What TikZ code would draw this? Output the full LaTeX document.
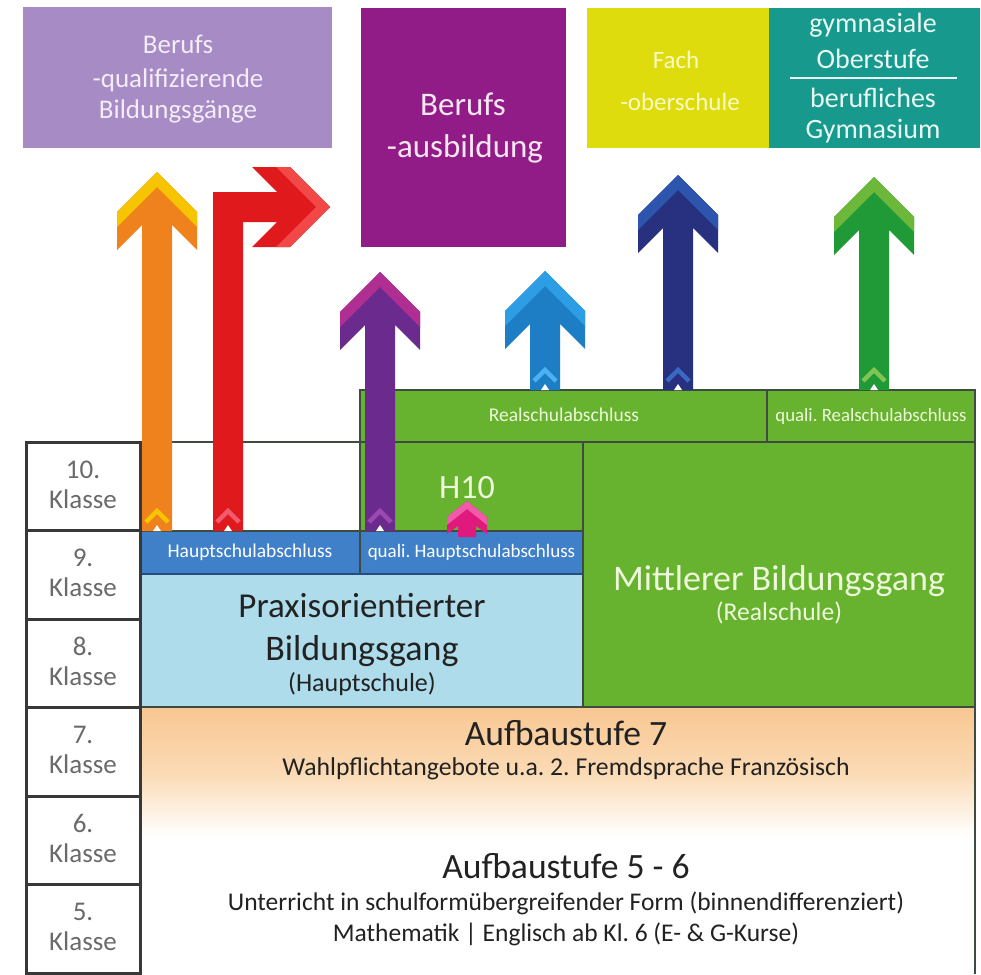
\documentclass[tikz,border=0pt]{standalone}
\usepackage{fontspec}
\setmainfont{Carlito}
\frenchspacing
\newcommand{\fs}[1]{\fontsize{#1}{#1}\selectfont}
\definecolor{lav}{HTML}{A68BC4}
\definecolor{lavtxt}{HTML}{F4ECF8}
\definecolor{purp}{HTML}{921C87}
\definecolor{purptxt}{HTML}{F8E6F2}
\definecolor{yel}{HTML}{DEDC0C}
\definecolor{yeltxt}{HTML}{FAFAC4}
\definecolor{tealbox}{HTML}{17998D}
\definecolor{tealtxt}{HTML}{E8F8F2}
\definecolor{grn}{HTML}{67B22F}
\definecolor{grntxt}{HTML}{EEF9DC}
\definecolor{blueband}{HTML}{3F80C9}
\definecolor{lblue}{HTML}{AEDCEB}
\definecolor{peachA}{HTML}{F8C792}
\definecolor{peachB}{HTML}{FBDAB4}
\definecolor{gridc}{HTML}{3E4B40}
\definecolor{klgray}{HTML}{6A6A6A}
\definecolor{darktxt}{HTML}{222222}
% arrows
\definecolor{orB}{HTML}{EF821D}
\definecolor{orT}{HTML}{F7C400}
\definecolor{rdB}{HTML}{E01A1C}
\definecolor{rdT}{HTML}{F24848}
\definecolor{rdM}{HTML}{F25A70}
\definecolor{puB}{HTML}{6B2A8E}
\definecolor{puT}{HTML}{B02E92}
\definecolor{puM}{HTML}{9C4AAE}
\definecolor{blB}{HTML}{1D7EC6}
\definecolor{blT}{HTML}{2E9EE4}
\definecolor{blM}{HTML}{4AB2F0}
\definecolor{nvB}{HTML}{27317F}
\definecolor{nvT}{HTML}{2D55AE}
\definecolor{nvM}{HTML}{3A68C2}
\definecolor{gaB}{HTML}{1F9A37}
\definecolor{gaT}{HTML}{6DB83A}
\definecolor{gaM}{HTML}{80C454}
\definecolor{mgB}{HTML}{E0197D}
\definecolor{mgT}{HTML}{F05AA8}
% chevron up arrow: cx, apex y, bottom y, body, tip, mark
\newcommand{\chevup}[6]{%
 \fill[#4] (#1,#2) -- ({#1+40},{#2+40}) -- ({#1+40},{#2+78}) -- ({#1+15},{#2+53}) -- ({#1+15},#3) -- ({#1-15},#3) -- ({#1-15},{#2+53}) -- ({#1-40},{#2+78}) -- ({#1-40},{#2+40}) -- cycle;
 \fill[#5] (#1,#2) -- ({#1+40},{#2+40}) -- ({#1+40},{#2+55}) -- (#1,{#2+15}) -- ({#1-40},{#2+55}) -- ({#1-40},{#2+40}) -- cycle;
 \draw[#6, line width=4.5pt, line cap=butt] ({#1-11},{#3-9}) -- (#1,{#3-20}) -- ({#1+11},{#3-9});
 \fill[white] ({#1-4},#3) -- (#1,{#3-6}) -- ({#1+4},#3) -- cycle;
}
\begin{document}
\begin{tikzpicture}[x=1pt,y=-1pt,line join=miter,
  t/.style={anchor=base, inner sep=0pt, outer sep=0pt},
  gridline/.style={draw=gridc, line width=2.5pt},
  klcell/.style={draw=black!78, line width=3pt, fill=white}]
\useasboundingbox (0,0) rectangle (981,974);
\fill[white] (0,0) rectangle (981,974);

% ---- top boxes
\fill[lav] (23,7) rectangle (332,148);
\fill[purp] (361,8) rectangle (566,247);
\fill[yel] (587,8) rectangle (769,148);
\fill[tealbox] (769,8) rectangle (980,148);

% ---- main area fills
\fill[white] (140,442) rectangle (360,531);
\fill[grn] (360,390) rectangle (975,442);
\fill[grn] (360,442) rectangle (583,531);
\fill[grn] (583,442) rectangle (975,707);
\fill[blueband] (140,531) rectangle (583,574);
\fill[lblue] (140,574) rectangle (583,707);
\shade[top color=peachA, bottom color=peachB] (140,707) rectangle (975,772);
\shade[top color=peachB, bottom color=white] (140,772) rectangle (975,836);
\fill[white] (140,836) rectangle (975,974);

% ---- grid lines
\draw[gridline] (140,442) -- (360,442);
\draw[gridline] (360,390) -- (975,390);
\draw[gridline] (975,389) -- (975,974);
\draw[gridline] (360,389) -- (360,574);
\draw[gridline] (360,442) -- (975,442);
\draw[gridline] (767,390) -- (767,442);
\draw[gridline] (583,442) -- (583,707);
\draw[gridline] (140,531) -- (583,531);
\draw[gridline, draw=blueband!60!black, line width=2pt] (140,574) -- (583,574);
\draw[gridline] (140,707) -- (975,707);

% ---- Klasse column
\foreach \n/\r in {10/442,9/530.5,8/619,7/707.5,6/796,5/884.5}{
  \draw[klcell] (26,\r) rectangle (140,{\r+88.5});
  \node[t, text=klgray, font=\fs{27}] (k\n) at (83,{\r+36}) {\n.};
  \node[t, text=klgray, font=\fs{27}] (kl\n) at (83,{\r+66}) {Klasse};
}

% ---- arrows
\chevup{157}{172}{531}{orB}{orT}{orT}
% red right-turn arrow
\fill[rdB] (213,531) -- (213,192) -- (277,192) -- (252,167) -- (290,167) -- (330,207) -- (290,247) -- (252,247) -- (277,222) -- (243,222) -- (243,531) -- cycle;
\fill[rdT] (290,167) -- (330,207) -- (290,247) -- (276,247) -- (316,207) -- (276,167) -- cycle;
\draw[rdM, line width=4.5pt] (217,522) -- (228,511) -- (239,522);
\fill[white] (224,531) -- (228,525) -- (232,531) -- cycle;
\chevup{380}{272}{531}{puB}{puT}{puM}
\chevup{545}{271}{390}{blB}{blT}{blM}
\chevup{678}{175}{390}{nvB}{nvT}{nvM}
\chevup{874}{177}{390}{gaB}{gaT}{gaM}
% small magenta arrow into H10
\fill[mgB] (467,501) -- (487,517) -- (487,534) -- (476,526) -- (476,537) -- (458,537) -- (458,526) -- (447,534) -- (447,517) -- cycle;
\fill[mgT] (467,501) -- (487,517) -- (487,525) -- (467,509) -- (447,525) -- (447,517) -- cycle;

% ---- top box texts
\node[t, text=lavtxt, font=\fs{27}] (l1) at (178,53) {Berufs};
\node[t, text=lavtxt, font=\fs{27}] (l2) at (178,87) {-qualifizierende};
\node[t, text=lavtxt, font=\fs{27}] (l3) at (178,118) {Bildungsgänge};
\node[t, text=purptxt, font=\fs{33}] (p1) at (463,115) {Berufs};
\node[t, text=purptxt, font=\fs{33}] (p2) at (465,157) {-ausbildung};
\node[t, text=yeltxt, font=\fs{25}] (y1) at (676,68) {Fach};
\node[t, text=yeltxt, font=\fs{25}] (y2) at (680,110) {-oberschule};
\node[t, text=tealtxt, font=\fs{28}] (g1) at (873,33) {gymnasiale};
\node[t, text=tealtxt, font=\fs{28}] (g2) at (873,68) {Oberstufe};
\draw[tealtxt, line width=2pt] (790,78) -- (957,78);
\node[t, text=tealtxt, font=\fs{28}] (g3) at (873,107) {berufliches};
\node[t, text=tealtxt, font=\fs{28}] (g4) at (873,138) {Gymnasium};

% ---- main texts
\node[t, text=grntxt, font=\fs{19.5}] (rsa) at (564,421) {Realschulabschluss};
\node[t, text=grntxt, font=\fs{18.8}] (qrsa) at (871,421) {quali. Realschulabschluss};
\node[t, text=grntxt, font=\fs{34}] (h10) at (467,498) {H10};
\node[t, text=white, font=\fs{19.5}] (hsa) at (250,557) {Hauptschulabschluss};
\node[t, text=white, font=\fs{19}] (qhsa) at (471.5,557) {quali. Hauptschulabschluss};
\node[t, text=grntxt, font=\fs{36}] (mbg1) at (779,590) {Mittlerer Bildungsgang};
\node[t, text=grntxt, font=\fs{25.6}] (mbg2) at (779,620) {(Realschule)};
\node[t, text=darktxt, font=\fs{35}] (pbg1) at (362,617) {Praxisorientierter};
\node[t, text=darktxt, font=\fs{36}] (pbg2) at (362,660) {Bildungsgang};
\node[t, text=darktxt, font=\fs{26}] (pbg3) at (362,691) {(Hauptschule)};
\node[t, text=darktxt, font=\fs{35.6}] (a7) at (566,745) {Aufbaustufe 7};
\node[t, text=darktxt, font=\fs{25.7}] (a7s) at (566,775) {Wahlpflichtangebote u.a. 2. Fremdsprache Französisch};
\node[t, text=darktxt, font=\fs{35.6}] (a56) at (566,878) {Aufbaustufe 5 - 6};
\node[t, text=darktxt, font=\fs{25.5}] (a56s) at (566,910) {Unterricht in schulformübergreifender Form (binnendifferenziert)};
\node[t, text=darktxt, font=\fs{25.5}] (a56m) at (566,941) {Mathematik | Englisch ab Kl. 6 (E- \& G-Kurse)};
\end{tikzpicture}
\end{document}
